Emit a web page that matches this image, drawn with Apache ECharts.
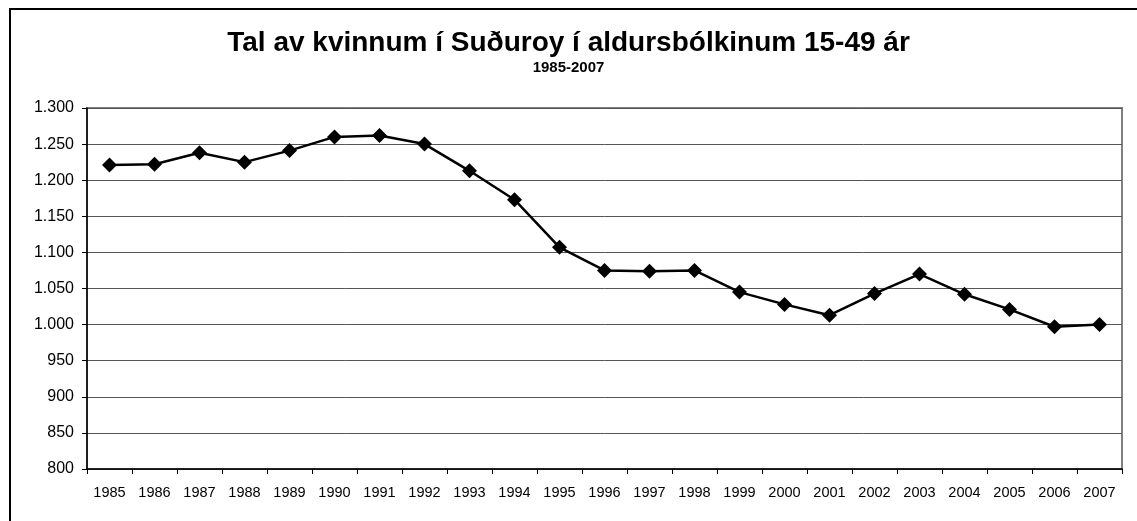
<!DOCTYPE html>
<html>
<head>
<meta charset="utf-8">
<script src="https://cdn.jsdelivr.net/npm/echarts@6/dist/echarts.min.js"></script>
<style>
  html, body { margin: 0; padding: 0; background: #fff; }
  #chart { width: 1137px; height: 521px; }
</style>
</head>
<body>
<div id="chart"></div>
<script>
// data
var years = ['1985', '1986', '1987', '1988', '1989', '1990', '1991', '1992', '1993', '1994', '1995',
  '1996', '1997', '1998', '1999', '2000', '2001', '2002', '2003', '2004', '2005', '2006', '2007'];
var women = [1221, 1222, 1238, 1225, 1241, 1260, 1262, 1250, 1213, 1173, 1107,
  1075, 1074, 1075, 1045, 1028, 1013, 1043, 1070, 1042, 1021, 997, 1000];

var titleText = 'Tal av kvinnum í Suðuroy í aldursbólkinum 15-49 ár';
var subText = '1985-2007';

// 1.250 style labels with dot as thousands separator
function fmt(v) {
  var s = String(v);
  if (v >= 1000) s = s.slice(0, s.length - 3) + '.' + s.slice(-3);
  return s;
}

var myChart = echarts.init(document.getElementById('chart'));

option = {
  backgroundColor: '#fff',
  animation: false,
  textStyle: { fontFamily: 'Liberation Sans, Arial, sans-serif' },
  title: {
    text: titleText,
    subtext: subText,
    left: 'center',
    top: 24,
    itemGap: 3,
    textStyle: { fontSize: 28, fontWeight: 'bold', color: '#000' },
    subtextStyle: { fontSize: 15, fontWeight: 'bold', color: '#000' }
  },
  graphic: [{
    type: 'rect',
    shape: { x: 10, y: 9, width: 1140, height: 520 },
    style: { fill: 'none', stroke: '#000', lineWidth: 2 },
    silent: true
  }],
  grid: {
    left: 87, right: 15, top: 108, bottom: 52,
    show: true, borderColor: '#808080', borderWidth: 2, backgroundColor: '#fff'
  },
  xAxis: {
    type: 'category',
    data: years,
    boundaryGap: true,
    axisLine: { lineStyle: { color: '#000', width: 1.5 } },
    axisTick: { show: true, length: 5, lineStyle: { color: '#000' } },
    axisLabel: { color: '#000', fontSize: 14.5, margin: 16, interval: 0 },
    splitLine: { show: false }
  },
  yAxis: {
    type: 'value',
    min: 800, max: 1300, interval: 50,
    axisLine: { show: true, lineStyle: { color: '#000', width: 1.5 } },
    axisTick: { show: true, length: 5, lineStyle: { color: '#000' } },
    axisLabel: { color: '#000', fontSize: 16, margin: 13, formatter: fmt },
    splitLine: { show: true, lineStyle: { color: '#555', width: 1 } }
  },
  series: [{
    type: 'line',
    data: women,
    symbol: 'diamond',
    symbolSize: 15,
    lineStyle: { color: '#000', width: 2.5 },
    itemStyle: { color: '#000' }
  }]
};

myChart.setOption(option);
</script>
</body>
</html>
